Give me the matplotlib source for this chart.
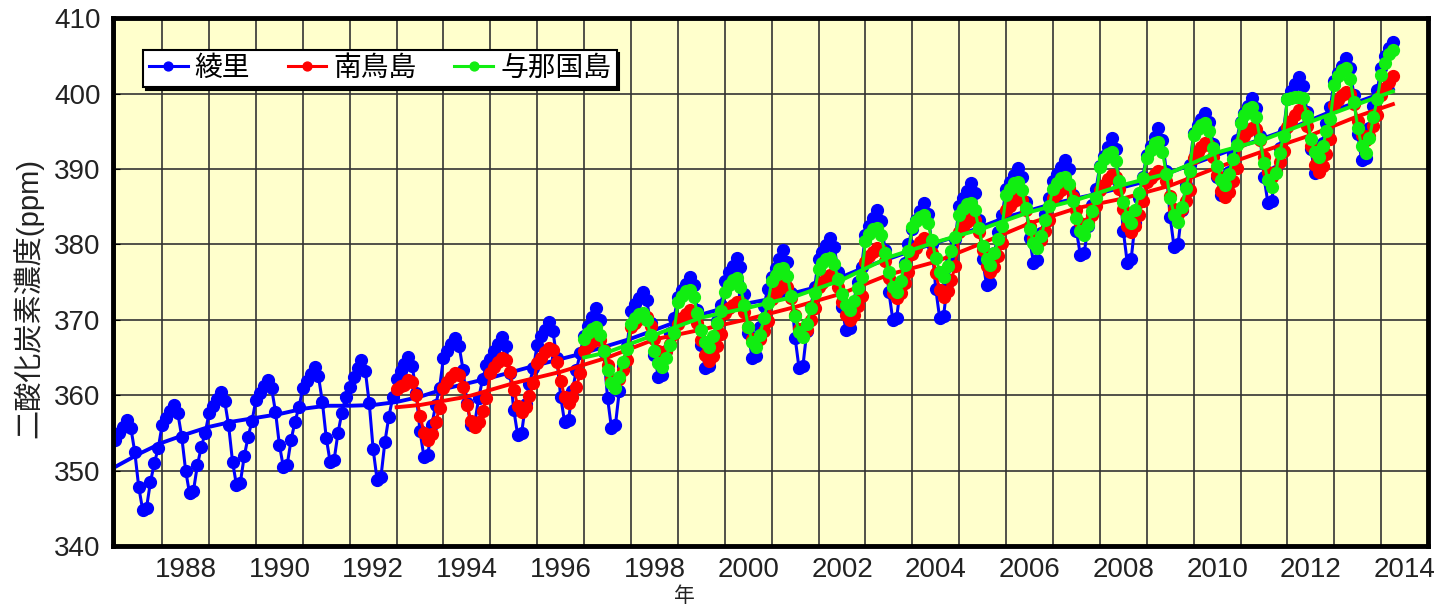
import numpy as np
import matplotlib.pyplot as plt

plt.rcParams['font.family'] = ['Liberation Sans', 'Noto Sans CJK JP']

# monthly CO2 (ppm), one row per year, Jan..Dec
ryori_start = 1987
ryori = [
    [354.0, 355.0, 355.8, 356.7, 355.6, 352.4, 347.8, 344.8, 345.1, 348.5, 351.0, 353.0],
    [356.1, 357.0, 357.9, 358.7, 357.6, 354.5, 350.0, 347.0, 347.3, 350.7, 353.1, 355.0],
    [357.6, 358.6, 359.5, 360.4, 359.2, 356.0, 351.2, 348.1, 348.4, 351.9, 354.5, 356.6],
    [359.4, 360.3, 361.2, 362.0, 360.9, 357.8, 353.4, 350.5, 350.8, 354.1, 356.5, 358.4],
    [360.9, 361.9, 362.8, 363.7, 362.5, 359.1, 354.3, 351.1, 351.4, 355.0, 357.7, 359.8],
    [361.1, 362.4, 363.6, 364.7, 363.2, 358.9, 352.8, 348.8, 349.2, 353.8, 357.1, 359.7],
    [362.1, 363.2, 364.1, 365.1, 363.9, 360.3, 355.2, 351.8, 352.1, 356.0, 358.7, 361.0],
    [365.0, 365.9, 366.8, 367.6, 366.5, 363.4, 359.0, 356.0, 356.3, 359.6, 362.1, 364.0],
    [364.8, 365.8, 366.8, 367.7, 366.5, 363.0, 358.0, 354.7, 355.0, 358.8, 361.5, 363.6],
    [366.7, 367.8, 368.7, 369.7, 368.5, 364.9, 359.8, 356.4, 356.7, 360.6, 363.3, 365.6],
    [367.9, 369.2, 370.4, 371.5, 370.0, 365.7, 359.6, 355.6, 356.0, 360.6, 363.9, 366.5],
    [371.2, 372.1, 372.9, 373.7, 372.6, 369.6, 365.3, 362.4, 362.7, 365.9, 368.3, 370.2],
    [373.0, 374.0, 374.8, 375.7, 374.6, 371.3, 366.7, 363.6, 363.9, 367.4, 369.9, 371.9],
    [375.2, 376.3, 377.2, 378.2, 377.0, 373.4, 368.3, 364.9, 365.2, 369.1, 371.8, 374.1],
    [375.7, 376.9, 378.1, 379.2, 377.7, 373.6, 367.6, 363.6, 363.9, 368.5, 371.7, 374.3],
    [378.1, 379.0, 379.9, 380.8, 379.7, 376.4, 371.7, 368.6, 368.9, 372.4, 375.0, 377.0],
    [381.2, 382.4, 383.5, 384.5, 383.1, 379.3, 373.7, 370.0, 370.3, 374.5, 377.6, 380.0],
    [382.1, 383.3, 384.4, 385.5, 384.1, 380.0, 374.1, 370.2, 370.5, 375.0, 378.2, 380.7],
    [385.1, 386.1, 387.1, 388.1, 386.8, 383.2, 378.0, 374.6, 374.9, 378.8, 381.7, 383.9],
    [387.3, 388.3, 389.2, 390.1, 388.9, 385.6, 380.8, 377.6, 377.9, 381.5, 384.1, 386.2],
    [388.4, 389.4, 390.3, 391.2, 390.0, 386.6, 381.8, 378.6, 378.9, 382.5, 385.2, 387.3],
    [390.4, 391.7, 392.9, 394.1, 392.6, 388.1, 381.8, 377.6, 378.0, 382.8, 386.2, 389.0],
    [391.9, 393.1, 394.3, 395.4, 393.9, 389.7, 383.6, 379.6, 380.0, 384.5, 387.9, 390.5],
    [394.8, 395.8, 396.6, 397.4, 396.3, 393.3, 388.9, 386.5, 386.8, 389.6, 392.0, 393.8],
    [396.3, 397.4, 398.4, 399.4, 398.1, 394.4, 389.0, 385.5, 385.8, 389.8, 392.8, 395.1],
    [399.3, 400.4, 401.3, 402.2, 401.0, 397.6, 392.7, 389.5, 389.8, 393.5, 396.1, 398.2],
    [401.7, 402.7, 403.7, 404.7, 403.4, 399.8, 394.6, 391.2, 391.5, 395.4, 398.3, 400.5],
    [403.4, 405.0, 406.0, 406.8],
]

minami_start = 1993
minami = [
    [360.8, 361.2, 361.4, 362.0, 361.8, 360.0, 357.3, 355.0, 354.1, 354.9, 356.4, 358.3],
    [361.0, 361.7, 362.4, 362.9, 362.7, 361.1, 358.7, 356.6, 355.8, 356.5, 357.9, 359.6],
    [363.0, 363.7, 364.4, 364.9, 364.7, 363.1, 360.7, 358.6, 357.8, 358.5, 359.9, 361.6],
    [364.3, 365.0, 365.7, 366.2, 366.0, 364.4, 361.9, 359.8, 359.0, 359.7, 361.1, 362.9],
    [365.9, 366.5, 367.1, 367.5, 367.3, 366.0, 364.0, 362.2, 361.5, 362.1, 363.3, 364.7],
    [369.1, 369.6, 370.1, 370.5, 370.4, 369.2, 367.4, 365.9, 365.3, 365.8, 366.8, 368.1],
    [369.5, 370.2, 370.8, 371.3, 371.1, 369.6, 367.3, 365.3, 364.5, 365.2, 366.5, 368.1],
    [370.9, 371.5, 372.0, 372.4, 372.3, 371.0, 369.1, 367.5, 366.9, 367.4, 368.5, 369.8],
    [372.8, 373.5, 374.1, 374.6, 374.4, 372.9, 370.7, 368.8, 368.0, 368.7, 370.0, 371.5],
    [374.3, 374.9, 375.5, 375.9, 375.7, 374.4, 372.4, 370.7, 370.0, 370.6, 371.8, 373.2],
    [377.7, 378.4, 379.0, 379.5, 379.3, 377.8, 375.6, 373.6, 372.9, 373.6, 374.9, 376.4],
    [378.7, 379.5, 380.3, 380.8, 380.6, 378.8, 376.2, 373.9, 373.0, 373.8, 375.3, 377.2],
    [381.6, 382.3, 383.0, 383.5, 383.3, 381.7, 379.2, 377.1, 376.3, 377.0, 378.4, 380.2],
    [384.5, 385.1, 385.7, 386.1, 385.9, 384.6, 382.5, 380.7, 380.0, 380.6, 381.8, 383.3],
    [386.2, 386.7, 387.2, 387.6, 387.5, 386.3, 384.5, 382.9, 382.3, 382.8, 383.9, 385.1],
    [387.2, 387.9, 388.7, 389.2, 389.0, 387.3, 384.7, 382.5, 381.6, 382.4, 383.9, 385.7],
    [388.3, 388.8, 389.4, 389.8, 389.6, 388.4, 386.4, 384.7, 384.1, 384.7, 385.8, 387.2],
    [391.5, 392.2, 392.9, 393.4, 393.2, 391.6, 389.2, 387.1, 386.3, 387.0, 388.4, 390.1],
    [393.7, 394.4, 395.0, 395.5, 395.3, 393.8, 391.6, 389.6, 388.9, 389.6, 390.9, 392.4],
    [395.6, 396.4, 397.2, 397.8, 397.6, 395.7, 393.0, 390.5, 389.6, 390.4, 392.0, 394.0],
    [398.5, 399.1, 399.8, 400.2, 400.0, 398.6, 396.4, 394.5, 393.8, 394.4, 395.7, 397.2],
    [399.8, 400.8, 401.6, 402.4],
]

yonaguni_start = 1997
yonaguni = [
    [367.4, 368.2, 368.8, 369.0, 368.0, 365.8, 363.4, 361.6, 361.0, 362.4, 364.4, 366.1],
    [369.5, 370.2, 370.8, 370.9, 370.0, 368.0, 365.9, 364.3, 363.7, 365.0, 366.7, 368.3],
    [372.4, 373.2, 373.8, 373.9, 373.0, 370.9, 368.7, 367.0, 366.4, 367.8, 369.6, 371.2],
    [373.7, 374.6, 375.3, 375.5, 374.4, 371.9, 369.1, 367.1, 366.4, 368.0, 370.2, 372.2],
    [375.1, 376.0, 376.7, 376.9, 375.8, 373.2, 370.5, 368.4, 367.7, 369.4, 371.6, 373.6],
    [376.8, 377.5, 378.1, 378.2, 377.4, 375.4, 373.4, 371.9, 371.3, 372.5, 374.2, 375.7],
    [380.5, 381.4, 382.0, 382.2, 381.2, 378.8, 376.3, 374.4, 373.7, 375.2, 377.3, 379.1],
    [382.3, 383.1, 383.7, 383.9, 382.9, 380.6, 378.2, 376.4, 375.7, 377.2, 379.1, 381.0],
    [383.9, 384.7, 385.3, 385.5, 384.5, 382.2, 379.8, 378.0, 377.3, 378.8, 380.7, 382.5],
    [386.5, 387.4, 388.1, 388.3, 387.2, 384.8, 382.1, 380.2, 379.5, 381.1, 383.2, 385.1],
    [387.4, 388.1, 388.8, 388.9, 388.0, 385.8, 383.5, 381.8, 381.2, 382.6, 384.4, 386.1],
    [390.3, 391.3, 392.0, 392.2, 391.1, 388.4, 385.6, 383.6, 382.8, 384.5, 386.8, 388.8],
    [391.5, 392.5, 393.4, 393.6, 392.3, 389.4, 386.2, 383.9, 383.0, 384.9, 387.5, 389.8],
    [394.5, 395.3, 395.9, 396.1, 395.1, 392.8, 390.4, 388.6, 387.9, 389.4, 391.3, 393.2],
    [396.1, 397.1, 398.0, 398.2, 396.9, 394.0, 390.8, 388.5, 387.6, 389.5, 392.1, 394.4],
    [399.3, 399.4, 399.5, 399.6, 399.4, 397.0, 394.0, 392.2, 391.6, 393.0, 395.0, 396.7],
    [401.1, 402.3, 403.2, 403.4, 402.0, 398.9, 395.5, 393.0, 392.1, 394.1, 396.9, 399.3],
    [402.5, 404.0, 405.2, 405.8],
]

# smoothed trend curves
ryori_trend_t = [1987.0, 1987.5, 1988.0, 1988.5, 1989.0, 1989.5, 1990.0, 1990.5, 1991.0, 1991.5,
                 1992.0, 1992.5, 1993.0, 1993.5, 1994.0, 1995.0, 1996.0, 1997.0, 1998.0, 1999.0,
                 2000.0, 2001.0, 2002.0, 2003.0, 2004.0, 2005.0, 2006.0, 2007.0, 2008.0, 2009.0,
                 2010.0, 2011.0, 2012.0, 2013.0, 2014.0, 2014.25]
ryori_trend = [350.5, 352.2, 353.7, 354.8, 355.8, 356.5, 357.0, 357.5, 358.2, 358.6,
               358.6, 358.7, 359.1, 359.8, 360.8, 362.3, 364.0, 365.6, 367.5, 369.8,
               371.6, 372.8, 374.4, 377.0, 379.2, 381.2, 383.6, 385.4, 386.8, 388.4,
               390.7, 393.0, 395.2, 397.8, 400.0, 400.6]

minami_trend_t = [1993.0, 1993.5, 1994.5, 1995.5, 1996.5, 1997.5, 1998.5, 1999.5, 2000.5, 2001.5,
                  2002.5, 2003.5, 2004.5, 2005.5, 2006.5, 2007.5, 2008.5, 2009.5, 2010.5, 2011.5,
                  2012.5, 2013.5, 2014.25]
minami_trend = [358.4, 358.7, 359.8, 361.6, 363.1, 365.0, 367.4, 368.7, 370.1, 371.7,
                373.5, 376.0, 377.7, 380.2, 382.8, 384.8, 386.1, 387.8, 390.2, 392.4,
                394.5, 397.0, 398.6]

yonaguni_trend_t = [1997.0, 1997.5, 1998.5, 1999.5, 2000.5, 2001.5, 2002.5, 2003.5, 2004.5, 2005.5,
                    2006.5, 2007.5, 2008.5, 2009.5, 2010.5, 2011.5, 2012.5, 2013.5, 2014.25]
yonaguni_trend = [365.0, 365.7, 368.0, 370.3, 371.6, 373.1, 375.3, 378.3, 380.3, 382.1,
                  384.3, 385.9, 387.9, 389.5, 392.2, 393.9, 396.3, 398.6, 400.3]

year_labels = [str(y) for y in range(1988, 2015, 2)]


def monthly(start, rows):
    t, v = [], []
    for i, row in enumerate(rows):
        for m, val in enumerate(row):
            t.append(start + i + m / 12)
            v.append(val)
    return t, v


fig = plt.figure(figsize=(14.39, 6.08), dpi=100)
ax = fig.add_axes([0.0785, 0.102, 0.9139, 0.868])
ax.set_facecolor('#FFFFCC')

series = [
    ('綾里', '#0000FF', ryori_start, ryori, ryori_trend_t, ryori_trend),
    ('南鳥島', '#FF0000', minami_start, minami, minami_trend_t, minami_trend),
    ('与那国島', '#11EE11', yonaguni_start, yonaguni, yonaguni_trend_t, yonaguni_trend),
]
z = 3
for name, col, start, rows, tt, tv in series:
    t, v = monthly(start, rows)
    ax.plot(t, v, '-o', color=col, lw=2.2, ms=8.5, label=name, zorder=z)
    ax.plot(tt, tv, '-', color=col, lw=2.8, zorder=z + 0.5)
    z += 1

ax.set_xlim(1986.95, 2015.0)
ax.set_ylim(340, 410)

ax.set_xticks(range(1987, 2015))
ax.set_xticklabels([])
ax.set_xticks([int(s) + 0.5 for s in year_labels], minor=True)
ax.set_xticklabels(year_labels, minor=True, fontsize=20, color='#222222')
ax.tick_params(axis='x', which='both', length=0, pad=8)
ax.set_yticks(range(340, 411, 10))
ax.tick_params(axis='y', direction='in', length=5, labelsize=20, pad=9, labelcolor='#222222')
ax.grid(True, which='major', color='#333333', lw=1.2)
ax.set_axisbelow(True)

for s in ax.spines.values():
    s.set_linewidth(3.5)
    s.set_color('black')
    s.set_zorder(10)

ax.set_ylabel('二酸化炭素濃度(ppm)', fontsize=21, color='#222222')
ax.yaxis.set_label_coords(-0.053, 0.47)
fig.text(684 / 1439, 1 - 596 / 608, '年', fontsize=15, ha='center', va='center', color='#222222')

leg = ax.legend(loc='upper left', bbox_to_anchor=(0.023, 0.94), borderaxespad=0, ncol=3,
                fontsize=20, handlelength=1.4, handletextpad=0.25, columnspacing=1.35,
                borderpad=0.2, fancybox=False, framealpha=1, edgecolor='black',
                shadow={'color': 'black', 'alpha': 1.0}, markerscale=0.75)
leg.get_frame().set_linewidth(1.5)
leg.set_zorder(20)

fig.savefig('out.png', dpi=100)
